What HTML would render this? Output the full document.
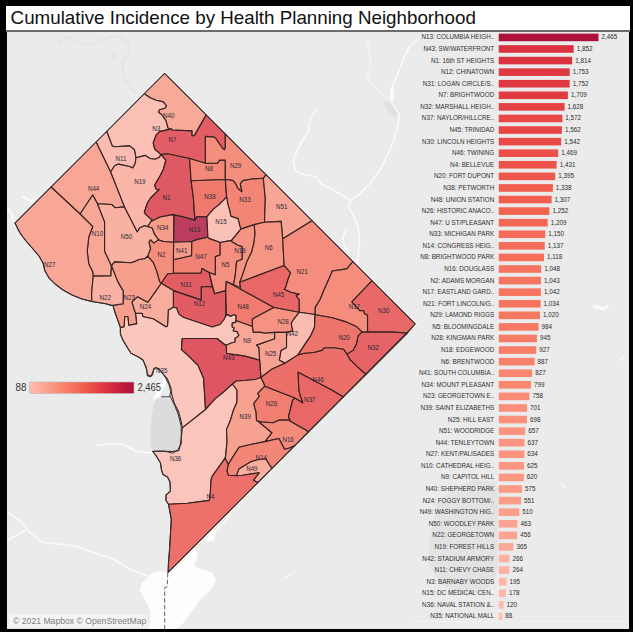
<!DOCTYPE html>
<html><head><meta charset="utf-8">
<style>
html,body{margin:0;padding:0;background:#000;}
body{width:633px;height:632px;position:relative;overflow:hidden;font-family:"Liberation Sans",sans-serif;}
#title{position:absolute;left:6px;top:6px;width:624px;height:24px;background:#fff;}
#title span{position:absolute;left:4.6px;top:0.8px;font-size:18.78px;color:#111;white-space:nowrap;letter-spacing:0px;}
#tline{position:absolute;left:6px;top:30px;width:624px;height:1.6px;background:#6b6b6b;}
#map{position:absolute;left:7px;top:32px;width:622px;height:597px;background:#ebebeb;overflow:hidden;}
svg{position:absolute;left:0;top:0;}
.bl{font-size:6.3px;fill:#303030;}
.bv{font-size:6.3px;fill:#2c2c2c;}
#copy{position:absolute;left:9px;top:613.5px;width:138px;height:13px;background:rgba(255,255,255,0.45);}
#copy span{position:absolute;left:3.5px;top:2.3px;font-size:9px;color:#7d7d7d;white-space:nowrap;transform:scaleX(0.96);transform-origin:0 0;}
</style></head><body>
<div id="wrap" style="position:absolute;left:0;top:0;width:633px;height:632px">
<div id="title"><span>Cumulative Incidence by Health Planning Neighborhood</span></div>
<div id="tline"></div>
<div id="map"></div>
<svg width="633" height="632" viewBox="0 0 633 632" style="clip-path:inset(32px 4px 3px 7px)">
<defs><linearGradient id="lg" x1="0" x2="1" y1="0" y2="0"><stop offset="0.000" stop-color="#ffbeb2"/><stop offset="0.053" stop-color="#feb4a6"/><stop offset="0.105" stop-color="#fdab9b"/><stop offset="0.158" stop-color="#fca290"/><stop offset="0.211" stop-color="#fb9984"/><stop offset="0.263" stop-color="#fa8f79"/><stop offset="0.316" stop-color="#f9856e"/><stop offset="0.368" stop-color="#f77b66"/><stop offset="0.421" stop-color="#f5715d"/><stop offset="0.474" stop-color="#f36754"/><stop offset="0.526" stop-color="#f05c4d"/><stop offset="0.579" stop-color="#ec5049"/><stop offset="0.632" stop-color="#e74545"/><stop offset="0.684" stop-color="#e13b42"/><stop offset="0.737" stop-color="#da323f"/><stop offset="0.789" stop-color="#d3293d"/><stop offset="0.842" stop-color="#ca223c"/><stop offset="0.895" stop-color="#c11a3b"/><stop offset="0.947" stop-color="#b8163a"/><stop offset="1.000" stop-color="#ae123a"/></linearGradient></defs>
<g fill="none" stroke="#fafafa" stroke-width="1.6" stroke-linejoin="round" stroke-linecap="round">
<polyline points="416.6,40 409,47.6 403.3,59 397.6,74.1 391.9,87.4 390,98.8 393.8,106.4 399.5,114 397.6,127.3 393.8,140.5 388.1,153.8 380.5,169 371,182.3 359.7,193.6 350.2,201.2 348.3,206.9 354,216.4 357.8,225.9 359.7,241.1 357.8,258.1 355.9,267.6"/>
<polyline points="316,110.2 310.3,117.8 308.5,131 302.8,140.5 297.1,150 293.3,161.4 295.2,170.9 304.7,174.7 316,176.6 321.7,184.2 333.1,189.9 342.6,195.5 350.2,201.2"/>
<polyline stroke="#f4f4f4" stroke-width="1.1" points="367.3,40 371,62.8 367.3,77.9 376.7,89.3 386.2,96.9"/>
<polyline points="347,230 343,236 344,246 349,252"/>
<polyline points="96.7,445.5 113.7,443.6 123.2,444.7 136.5,451.2 153.6,453.1"/>
<polyline points="7.6,511.8 22.7,523.2 28.4,530.8 37.9,538.4 41.7,542.2 75.8,546 91,551.7 113.7,559.2 128.9,568.7 142.2,574.4 149.8,576.3"/>
<polyline points="7.6,540.3 24.6,530.8"/>
<polyline points="545,76 560,73" />
<polyline points="23,197 31,201 36,199" stroke-width="2.2"/>
<polyline points="8,209 12,215 14,221" stroke-width="2.2"/>
<polygon fill="#fafafa" stroke="none" points="591,305.5 598,305 603,307.5 608,304.5 609,307 602,310.5 595,308.5"/>
</g>
<g fill="#fdfdfd" stroke="none">
<polygon points="167.8,572 179.3,560.5 189.7,552.2 196,550.1 198.1,554.3 196,560.5 193.9,566.8 202.2,568.9 212.7,573.1 215.8,580.4 212.7,587.7 206.4,594 200.2,600.2 193.9,608.6 187.6,616.9 181.4,625.3 175.1,629 148,629 150.1,621.1 150.1,612.7 148,604.4 143.8,598.1 139.6,589.8 141.7,583.5 145.9,579.3 152.1,573.1 158.4,571"/>
<polygon points="204,529 212,527 216,532 214,540 208,542 203,538"/>
<polygon points="164.5,376.5 168.5,379 157.5,400.5 153.5,398.5"/>
</g>
<polyline fill="none" stroke="#fafafa" stroke-width="1.3" points="206.4,539.7 212.7,533.4 219,527.1 227.3,518.8 231.5,512.5"/>
<polyline fill="none" stroke="#fafafa" stroke-width="1.3" points="284,578 294,573"/>
<polygon fill="#e0e0e0" points="383,101 390,102 397.6,113 396,118 389,114"/>
<ellipse cx="392" cy="94" rx="2.2" ry="7" fill="#fafafa"/>
<polyline fill="none" stroke="#e5e5e5" stroke-width="2.2" stroke-linejoin="round" points="58.3,44.3 66.5,36.1 74.8,40.2 85,45.3 95.3,42.3 105.6,38.2 113.8,36.1 122,38.2 128.1,44.3 130.2,52.5 124,58.7 122,69 125.1,79.2 130.2,87.4 137,93.6"/>
<circle cx="113.8" cy="55.6" r="3" fill="#e5e5e5"/>
<polygon fill="#e3e3e3" points="428,552 436,504 452,488 474,480 495,482 501,493 498,531 501,558 495,579 482,592 460,595 441.5,584 431,568"/>
<polyline fill="none" stroke="#fafafa" stroke-width="1.5" points="561,483 565,487.5"/>
<polyline fill="none" stroke="#fafafa" stroke-width="1.5" points="620,361 624,356"/>
<polyline fill="none" stroke="#fafafa" stroke-width="2" points="485,592 494,591"/>
<polygon fill="#dcdcdc" points="157,398 163,397 168,399 172,401 175,405 178.8,412.3 181.4,422.7 182.3,427.9 181.4,436.7 180.5,443.6 178.8,450.6 172,451.5 160,451 152.6,451.5 150.9,446 150.5,430 151.5,415 154,404"/>
<line x1="161.4" y1="396.8" x2="170.1" y2="396.8" stroke="#333" stroke-width="0.9"/>
<polyline fill="none" points="167.8,573 167.2,586.6 164.7,587.7 164.7,629" stroke="#555" stroke-width="0.9" stroke-dasharray="4.5,2.2"/>
<polyline fill="none" stroke="#f9f9f9" stroke-width="3.4" stroke-linejoin="miter" points="15.0,223.0 164.6,73.4 415.2,324.0 168.1,572.4"/>
<g fill-opacity="0.80" stroke="#352424" stroke-width="1.12" stroke-linejoin="round">
<polygon fill="#fb9a85" points="164.6,73.4 206.2,114.9 194.3,135.6 191.9,135.6 191.9,130.9 172.2,130.0 170.6,128.5 168.8,129.6 168.0,128.0 165.7,120.1 161.7,114.6 158.5,112.2 159.3,109.8 164.9,108.3 166.5,105.9 163.3,101.9 156.2,100.3 150.6,98.0 144.3,93.7"/>
<polygon fill="#feb5a8" points="144.3,93.7 150.6,98.0 156.2,100.3 163.3,101.9 166.5,105.9 164.9,108.3 159.3,109.8 158.5,112.2 161.7,114.6 165.7,120.1 168.0,128.0 168.8,129.6 165.8,130.1 159.5,131.6 156.3,134.8 153.2,142.7 154.7,149.0 161.1,154.6 158.7,157.8 154.7,159.3 150.0,158.5 145.4,155.4 136.0,157.8 134.4,149.8 129.6,145.9 114.6,146.7 112.2,145.9 106.7,131.3"/>
<polygon fill="#e13b42" points="168.8,129.6 170.6,128.5 172.2,130.0 191.9,130.9 191.9,135.6 194.3,135.6 206.2,114.9 225.3,134.0 225.3,147.5 224.4,149.8 222.0,147.5 214.9,137.2 205.4,136.4 205.4,163.3 189.6,158.5 167.4,153.8 161.1,154.6 154.7,149.0 153.2,142.7 156.3,134.8 159.5,131.6 165.8,130.1"/>
<polygon fill="#feb0a2" points="106.7,131.3 112.2,145.9 114.6,146.7 129.6,145.9 134.4,149.8 136.0,157.8 135.2,163.3 132.8,168.0 129.6,166.5 118.5,164.1 114.6,165.7 110.6,172.0 96.1,141.9"/>
<polygon fill="#fda999" points="136.0,157.8 145.4,155.4 150.0,158.5 154.7,159.3 158.7,157.8 161.1,154.6 165.8,160.1 163.3,169.5 160.1,175.8 154.6,185.3 156.2,189.3 159.3,189.6 155.4,193.2 150.6,198.0 147.5,202.7 144.3,212.2 145.9,214.6 152.2,220.1 149.8,223.3 147.5,226.5 144.3,225.7 139.6,228.0 137.2,232.0 124.4,206.9 110.6,172.0 114.6,165.7 118.5,164.1 129.6,166.5 132.8,168.0 135.2,163.3"/>
<polygon fill="#db3440" points="161.1,154.6 167.4,153.8 189.6,158.5 191.1,180.7 193.4,198.0 194.9,220.1 183.9,217.0 172.8,214.6 160.1,217.0 150.6,221.7 152.2,220.1 145.9,214.6 144.3,212.2 147.5,202.7 150.6,198.0 155.4,193.2 159.3,189.6 156.2,189.3 154.6,185.3 160.1,175.8 163.3,169.5 165.8,160.1"/>
<polygon fill="#f56f5b" points="189.6,158.5 205.4,163.3 217.4,163.2 219.8,160.1 225.3,160.1 225.3,179.5 191.1,180.7"/>
<polygon fill="#f67762" points="225.3,134.0 266.0,174.7 263.3,178.3 252.2,179.0 242.7,180.6 240.3,183.8 241.9,191.7 238.0,188.5 235.6,183.8 233.2,180.6 228.5,179.8 225.3,179.5 225.3,160.1 219.8,160.1 217.4,163.2 205.4,163.3 205.4,136.4 214.9,137.2 222.0,147.5 224.4,149.8 225.3,147.5"/>
<polygon fill="#f05c4d" points="191.1,180.7 225.3,179.5 226.6,196.5 224.4,199.3 218.2,205.4 213.4,209.1 206.9,216.7 200.0,216.7 196.6,216.7 194.9,220.1 193.4,198.0"/>
<polygon fill="#f46c59" points="226.6,196.5 225.3,179.5 228.5,179.8 233.2,180.6 235.6,183.8 238.0,188.5 241.9,191.7 240.3,183.8 242.7,180.6 252.2,179.0 263.3,178.3 265.3,198.5 264.5,222.2 254.2,224.6 240.8,229.1 239.6,224.9 238.0,218.6 230.9,216.2 229.3,209.1 227.7,203.6"/>
<polygon fill="#fa947e" points="266.0,174.7 312.0,220.7 282.7,238.8 281.1,221.4 264.5,222.2 265.3,198.5 263.3,178.3"/>
<polygon fill="#fb9580" points="96.1,141.9 110.6,172.0 124.4,206.9 114.9,207.7 111.7,204.5 97.5,203.7 92.7,195.0 80.1,214.0 51.0,187.0"/>
<polygon fill="#fb9681" points="92.7,195.0 97.5,203.7 104.6,221.9 104.6,251.2 111.4,265.8 110.9,276.0 93.2,276.1 92.7,271.8 88.8,263.9 87.2,251.2 88.8,237.0 92.7,226.7 80.1,214.0"/>
<polygon fill="#fb9580" points="51.0,187.0 80.1,214.0 92.7,226.7 88.8,237.0 87.2,251.2 88.8,263.9 92.7,271.8 93.2,276.1 92.4,285.0 91.6,292.7 91.8,301.5 82.0,299.0 72.0,295.0 63.0,290.0 55.0,284.0 49.0,278.0 45.0,271.0 43.0,263.0 39.0,256.0 33.0,249.0 26.0,241.0 20.0,233.0 15.0,223.0"/>
<polygon fill="#fca290" points="97.5,203.7 111.7,204.5 114.9,207.7 124.4,206.9 137.2,232.0 139.6,228.0 144.3,225.7 147.5,226.5 152.2,228.0 154.6,234.4 157.0,237.5 158.5,239.9 153.8,243.1 150.6,239.9 149.1,242.3 150.6,248.6 148.3,254.9 147.8,256.3 144.6,258.7 139.1,259.5 135.9,261.1 131.1,262.7 114.5,261.9 111.4,265.8 104.6,251.2 104.6,221.9"/>
<polygon fill="#f98871" points="150.6,221.7 160.1,217.0 172.8,214.6 174.0,216.7 173.6,242.3 163.3,241.5 158.5,239.9 157.0,237.5 154.6,234.4 152.2,228.0 147.5,226.5 149.8,223.3"/>
<polygon fill="#ae123a" points="174.0,216.7 172.8,214.6 183.9,217.0 194.9,220.1 196.6,216.7 206.9,216.7 207.9,237.3 197.6,239.4 191.8,241.5 173.6,242.3"/>
<polygon fill="#feb7a9" points="206.9,216.7 213.4,209.1 218.2,205.4 224.4,199.3 226.6,196.5 227.7,203.6 229.3,209.1 230.9,216.2 238.0,218.6 239.6,224.9 240.8,229.1 231.6,240.4 220.2,242.5 208.9,238.4 207.9,237.3"/>
<polygon fill="#f9866f" points="173.6,242.3 191.8,241.5 191.6,255.8 173.4,259.8"/>
<polygon fill="#f36754" points="191.8,241.5 197.6,239.4 207.9,237.3 208.9,238.4 220.2,242.5 220.1,255.0 215.4,256.6 215.4,274.8 209.1,272.4 201.9,268.5 201.1,273.2 173.4,273.3 173.4,259.8 191.6,255.8"/>
<polygon fill="#f67560" points="158.5,239.9 163.3,241.5 173.6,242.3 173.4,259.8 173.4,273.3 167.5,274.0 161.2,283.2 159.6,281.6 156.5,270.6 153.3,262.7 147.8,256.3 148.3,254.9 150.6,248.6 149.1,242.3 150.6,239.9 153.8,243.1"/>
<polygon fill="#f77965" points="220.2,242.5 231.6,240.4 231.1,241.1 237.4,245.0 242.2,246.6 242.2,259.3 236.6,261.6 235.0,277.5 233.4,284.6 226.3,281.4 225.7,290.6 214.6,293.8 209.1,272.4 215.4,274.8 215.4,256.6 220.1,255.0"/>
<polygon fill="#f87e68" points="240.8,229.1 254.2,224.6 255.0,233.3 254.0,242.7 251.6,252.2 246.9,261.6 242.2,275.9 239.8,282.2 240.5,287.7 233.4,284.6 235.0,277.5 236.6,261.6 242.2,259.3 242.2,246.6 237.4,245.0 231.1,241.1 231.6,240.4"/>
<polygon fill="#f8816b" points="254.2,224.6 264.5,222.2 281.1,221.4 282.7,238.8 284.1,265.6 239.8,282.2 242.2,275.9 246.9,261.6 251.6,252.2 254.0,242.7 255.0,233.3"/>
<polygon fill="#f67561" points="312.0,220.7 352.9,261.6 346.7,268.9 332.3,271.0 330.2,276.1 324.0,290.0 320.1,299.5 315.3,307.4 315.0,314.5 299.1,312.3 299.1,299.6 295.9,295.7 299.1,294.1 291.2,292.5 284.1,289.3 285.7,287.0 288.0,279.0 290.4,272.7 284.1,265.6 282.7,238.8"/>
<polygon fill="#e84746" points="239.8,282.2 284.1,265.6 290.4,272.7 288.0,279.0 285.7,287.0 284.1,289.3 291.2,292.5 299.1,294.1 295.9,295.7 299.1,299.6 299.1,312.3 273.8,307.5 240.5,289.2"/>
<polygon fill="#df3841" points="161.2,283.2 167.5,274.0 173.4,273.3 201.1,273.2 201.9,268.5 209.1,272.4 212.2,286.7 201.3,286.7 201.3,300.1 173.4,290.6"/>
<polygon fill="#df3841" points="173.4,290.6 201.3,300.1 201.3,286.7 212.2,286.7 214.6,293.8 225.7,290.6 225.7,316.0 224.1,319.5 220.1,324.5 212.2,327.0 183.7,317.5 179.0,314.4 176.6,308.0 173.4,307.2"/>
<polygon fill="#ffbeb2" points="120.4,327.6 124.0,326.7 124.8,316.5 128.0,316.5 128.8,325.2 136.7,323.6 135.5,313.3 142.2,313.3 143.0,316.5 153.3,318.8 166.0,326.7 167.5,326.0 168.3,310.1 172.3,307.8 173.4,307.2 176.6,308.0 179.0,314.4 183.7,317.5 212.2,327.0 220.1,324.5 224.1,319.5 225.7,316.0 226.5,315.5 228.4,314.5 230.3,316.4 234.1,314.5 236.0,315.5 236.0,322.1 232.2,323.1 232.2,326.9 234.1,327.8 233.2,330.7 237.0,331.6 238.9,335.4 237.0,337.3 235.1,338.2 235.1,342.0 231.3,343.0 226.5,344.9 224.9,344.8 217.0,338.5 182.2,338.5 181.4,349.6 188.5,355.9 198.0,365.4 203.5,378.0 204.3,389.1 205.5,409.5 182.3,427.9 181.4,422.7 178.8,412.3 174.4,403.6 171.8,394.8 170.9,387.9 167.5,379.2 163.1,373.9 158.7,368.7 155.3,367.8 153.5,370.5 150.9,376.6 147.4,375.7 146.6,369.6 143.1,360.0 138.5,357.0 130.9,353.2 123.3,340.9 120.4,334.2"/>
<polygon fill="#f15f4f" points="226.3,281.4 240.5,289.2 273.8,307.5 252.4,319.0 252.4,326.5 236.0,320.5 236.0,315.5 234.1,314.5 230.3,316.4 228.4,314.5 226.5,315.5 225.7,290.6"/>
<polygon fill="#f77c67" points="252.4,319.0 273.8,307.5 299.1,312.3 292.8,320.6 291.2,323.7 292.8,330.9 286.5,332.4 274.6,332.4 264.3,333.2 261.1,332.4 253.2,332.4 252.4,326.5"/>
<polygon fill="#feb0a1" points="299.1,312.3 315.0,314.5 314.5,327.2 310.6,335.9 304.2,345.4 297.9,354.9 284.9,363.3 279.3,360.1 280.9,350.6 286.5,347.5 286.5,332.4 292.8,330.9 291.2,323.7 292.8,320.6"/>
<polygon fill="#fa907a" points="274.6,332.4 286.5,332.4 286.5,347.5 280.9,350.6 279.3,360.1 284.9,363.3 271.1,369.6 260.9,377.5 259.6,360.1 258.8,347.5 256.4,345.1 274.6,338.8"/>
<polygon fill="#fb9681" points="236.0,320.5 252.4,326.5 253.2,332.4 261.1,332.4 264.3,333.2 274.6,332.4 274.6,338.8 256.4,345.1 258.8,347.5 259.6,360.1 243.9,355.9 226.5,353.5 226.5,344.9 231.3,343.0 235.1,342.0 235.1,338.2 237.0,337.3 238.9,335.4 237.0,331.6 233.2,330.7 234.1,327.8 232.2,326.9 232.2,323.1 236.0,322.1"/>
<polygon fill="#fb9c88" points="161.2,283.2 173.4,290.6 173.4,307.2 172.3,307.8 168.3,310.1 167.5,326.0 166.0,326.7 153.3,318.8 143.0,316.5 142.2,313.3 135.5,313.3 134.3,310.1 131.9,302.2 137.5,296.7 147.8,302.2 155.7,291.1"/>
<polygon fill="#fa8b75" points="111.4,265.8 114.5,261.9 131.1,262.7 135.9,261.1 139.1,259.5 144.6,258.7 147.8,256.3 153.3,262.7 156.5,270.6 159.6,281.6 161.2,283.2 155.7,291.1 147.8,302.2 137.5,296.7 131.9,302.2 134.3,310.1 135.5,313.3 136.7,323.6 128.8,325.2 128.0,316.5 124.8,316.5 124.0,326.7 120.4,327.6 119.3,324.4 115.3,313.3 112.9,305.4 123.2,303.8 123.2,291.1 117.7,281.6"/>
<polygon fill="#fca391" points="93.2,276.1 110.9,276.0 111.4,265.8 117.7,281.6 123.2,291.1 123.2,303.8 112.9,305.4 111.4,305.4 105.8,303.8 96.3,302.2 91.8,301.5 91.6,292.7 92.4,285.0"/>
<polygon fill="#d9313f" points="182.2,338.5 217.0,338.5 224.9,344.8 226.3,345.9 226.5,353.5 243.9,355.9 259.6,360.1 260.9,377.5 255.0,379.5 245.0,380.5 236.3,381.0 232.4,384.0 223.3,392.3 215.4,398.6 205.5,409.5 204.3,389.1 203.5,378.0 198.0,365.4 188.5,355.9 181.4,349.6"/>
<polygon fill="#ffbbaf" points="182.3,427.9 205.5,409.5 215.4,398.6 223.3,392.3 232.4,384.0 237.0,390.0 237.0,402.0 233.5,410.0 230.5,420.0 226.5,429.6 227.0,441.6 225.7,455.6 225.1,458.1 212.0,476.6 211.0,480.0 210.2,494.7 209.3,500.4 187.5,503.2 168.5,504.2 166.0,500.5 166.0,495.0 170.4,491.0 170.0,482.0 167.5,477.0 163.0,474.5 161.5,470.0 160.4,462.7 155.7,455.1 152.6,451.5 160.0,451.0 172.0,451.5 178.8,450.6 180.5,443.6 181.4,436.7"/>
<polygon fill="#fa907a" points="232.4,384.0 236.3,381.0 245.0,380.5 255.0,379.5 260.9,377.5 264.0,383.8 264.8,386.2 257.7,393.3 259.3,396.5 253.7,403.6 256.1,412.3 256.5,420.5 259.0,422.0 271.9,432.8 264.9,441.6 251.6,444.2 239.0,447.3 228.2,464.4 225.1,458.1 225.7,455.6 227.0,441.6 226.5,429.6 230.5,420.0 233.5,410.0 237.0,402.0 237.0,390.0"/>
<polygon fill="#f26452" points="264.8,386.2 294.9,398.0 292.5,400.4 290.9,407.5 288.5,416.2 290.1,421.0 289.0,420.1 279.5,420.1 273.2,422.7 261.8,422.0 256.5,420.5 256.1,412.3 253.7,403.6 259.3,396.5 257.7,393.3"/>
<polygon fill="#f67460" points="259.0,422.0 261.8,422.0 273.2,422.7 279.5,420.1 289.0,420.1 290.1,421.0 299.6,426.5 306.0,430.0 308.5,432.0 294.7,445.8 289.6,448.0 284.6,449.2 278.9,438.5 264.9,441.6 271.9,432.8"/>
<polygon fill="#f46d5a" points="228.2,464.4 239.0,447.3 251.6,444.2 264.9,441.6 278.9,438.5 284.6,449.2 289.6,448.0 294.7,445.8 271.9,468.6 265.6,458.7 256.7,460.0 250.4,461.9 239.0,468.9 236.5,475.8 228.2,475.2 227.0,470.8"/>
<polygon fill="#fc9f8c" points="236.5,475.8 239.0,468.9 250.4,461.9 256.7,460.0 265.6,458.7 271.9,468.6 258.0,482.5 253.5,480.3 259.2,472.7 242.8,475.2"/>
<polygon fill="#ed534a" points="168.5,504.2 187.5,503.2 209.3,500.4 210.2,494.7 211.0,480.0 212.0,476.6 225.1,458.1 228.2,464.4 227.0,470.8 228.2,475.2 236.5,475.8 242.8,475.2 259.2,472.7 253.5,480.3 258.0,482.5 168.1,572.4 168.5,563.0 169.4,551.6 170.4,534.6 171.3,519.4"/>
<polygon fill="#e84746" points="298.0,371.9 332.7,390.5 343.6,396.9 308.5,432.0 306.0,430.0 299.6,426.5 290.1,421.0 288.5,416.2 290.9,407.5 292.5,400.4 294.9,398.0 302.8,402.8 300.4,396.5 298.8,390.1"/>
<polygon fill="#ec5049" points="260.9,377.5 271.1,369.6 284.9,363.3 297.9,354.9 304.2,353.3 313.7,352.5 322.4,350.1 324.0,347.8 334.3,347.8 343.8,349.3 347.0,354.1 350.1,359.6 356.5,365.9 366.0,374.5 343.6,396.9 332.7,390.5 298.0,371.9 298.8,390.1 300.4,396.5 302.8,402.8 294.9,398.0 264.8,386.2 264.0,383.8"/>
<polygon fill="#e54244" points="362.0,331.9 390.0,331.9 407.5,333.0 366.0,374.5 356.5,365.9 350.1,359.6 347.0,354.1 353.3,350.1 356.5,343.8 358.0,335.9"/>
<polygon fill="#e94947" points="371.9,280.6 415.2,324.0 407.5,333.0 390.0,331.9 367.5,331.9 367.5,315.3 364.4,313.7 363.6,310.6 359.6,310.6 351.7,301.9"/>
<polygon fill="#ee574b" points="315.0,314.5 332.7,317.7 345.4,321.6 356.5,326.4 362.0,331.9 358.0,335.9 356.5,343.8 353.3,350.1 347.0,354.1 343.8,349.3 334.3,347.8 324.0,347.8 322.4,350.1 313.7,352.5 304.2,353.3 297.9,354.9 304.2,345.4 310.6,335.9 314.5,327.2"/>
<polygon fill="#f67560" points="352.9,261.6 371.9,280.6 351.7,301.9 359.6,310.6 363.6,310.6 364.4,313.7 367.5,315.3 367.5,331.9 362.0,331.9 356.5,326.4 345.4,321.6 332.7,317.7 315.0,314.5 315.3,307.4 320.1,299.5 324.0,290.0 330.2,276.1 332.3,271.0 346.7,268.9"/>
</g>
<polygon fill="none" stroke="#3a3030" stroke-width="1.0" stroke-linejoin="round" points="164.6,73.4 415.2,324.0 168.1,572.4 168.5,563.0 169.4,551.6 170.4,534.6 171.3,519.4 168.5,504.2 166.0,500.5 166.0,495.0 170.4,491.0 170.0,482.0 167.5,477.0 163.0,474.5 161.5,470.0 160.4,462.7 155.7,455.1 152.8,451.3 165.2,451.3 172.8,453.2 177.5,450.3 181.3,443.7 181.2,426.3 178.4,414.9 174.6,405.4 170.8,397.8 169.8,395.9 170.8,391.2 168.9,384.6 165.1,377.0 161.3,371.3 156.5,367.5 153.7,368.4 152.7,375.1 148.9,376.0 147.0,372.2 146.1,366.5 143.2,360.8 138.5,357.0 130.9,353.2 123.3,340.9 120.4,334.2 120.4,327.6 119.3,324.4 115.3,313.3 112.9,305.4 111.4,305.4 105.8,303.8 96.3,302.2 91.8,301.5 82.0,299.0 72.0,295.0 63.0,290.0 55.0,284.0 49.0,278.0 45.0,271.0 43.0,263.0 39.0,256.0 33.0,249.0 26.0,241.0 20.0,233.0 15.0,223.0"/>
<g font-family="Liberation Sans, sans-serif" font-size="6.7" fill="#2a2a3a" text-anchor="middle">
<text x="168.8" y="117.7" textLength="11.37" lengthAdjust="spacingAndGlyphs">N40</text>
<text x="156.2" y="131.2" textLength="7.93" lengthAdjust="spacingAndGlyphs">N3</text>
<text x="172.4" y="142.4" textLength="7.93" lengthAdjust="spacingAndGlyphs">N7</text>
<text x="120.9" y="161.2" textLength="10.91" lengthAdjust="spacingAndGlyphs">N11</text>
<text x="139.9" y="183.9" textLength="11.37" lengthAdjust="spacingAndGlyphs">N19</text>
<text x="93.6" y="190.8" textLength="11.37" lengthAdjust="spacingAndGlyphs">N44</text>
<text x="166.5" y="199.9" textLength="7.93" lengthAdjust="spacingAndGlyphs">N1</text>
<text x="209.0" y="170.9" textLength="7.93" lengthAdjust="spacingAndGlyphs">N8</text>
<text x="235.6" y="167.8" textLength="11.37" lengthAdjust="spacingAndGlyphs">N29</text>
<text x="210.0" y="198.8" textLength="11.37" lengthAdjust="spacingAndGlyphs">N38</text>
<text x="245.0" y="202.2" textLength="11.37" lengthAdjust="spacingAndGlyphs">N33</text>
<text x="281.8" y="208.7" textLength="11.37" lengthAdjust="spacingAndGlyphs">N51</text>
<text x="221.0" y="223.8" textLength="11.37" lengthAdjust="spacingAndGlyphs">N15</text>
<text x="162.8" y="230.4" textLength="11.37" lengthAdjust="spacingAndGlyphs">N34</text>
<text x="194.5" y="231.8" textLength="11.37" lengthAdjust="spacingAndGlyphs">N13</text>
<text x="126.5" y="239.4" textLength="11.37" lengthAdjust="spacingAndGlyphs">N50</text>
<text x="97.5" y="236.0" textLength="11.37" lengthAdjust="spacingAndGlyphs">N10</text>
<text x="49.8" y="267.4" textLength="11.37" lengthAdjust="spacingAndGlyphs">N27</text>
<text x="181.8" y="253.4" textLength="11.37" lengthAdjust="spacingAndGlyphs">N41</text>
<text x="161.4" y="257.0" textLength="7.93" lengthAdjust="spacingAndGlyphs">N2</text>
<text x="201.0" y="258.9" textLength="11.37" lengthAdjust="spacingAndGlyphs">N47</text>
<text x="225.4" y="266.8" textLength="7.93" lengthAdjust="spacingAndGlyphs">N5</text>
<text x="240.0" y="252.5" textLength="11.37" lengthAdjust="spacingAndGlyphs">N18</text>
<text x="268.8" y="249.7" textLength="7.93" lengthAdjust="spacingAndGlyphs">N6</text>
<text x="302.3" y="273.8" textLength="11.37" lengthAdjust="spacingAndGlyphs">N21</text>
<text x="278.5" y="296.8" textLength="11.37" lengthAdjust="spacingAndGlyphs">N45</text>
<text x="243.1" y="308.9" textLength="11.37" lengthAdjust="spacingAndGlyphs">N48</text>
<text x="283.1" y="324.1" textLength="11.37" lengthAdjust="spacingAndGlyphs">N28</text>
<text x="292.5" y="335.5" textLength="11.37" lengthAdjust="spacingAndGlyphs">N42</text>
<text x="247.1" y="342.6" textLength="7.93" lengthAdjust="spacingAndGlyphs">N9</text>
<text x="270.6" y="355.5" textLength="11.37" lengthAdjust="spacingAndGlyphs">N25</text>
<text x="228.8" y="359.7" textLength="11.37" lengthAdjust="spacingAndGlyphs">N43</text>
<text x="186.3" y="286.7" textLength="11.37" lengthAdjust="spacingAndGlyphs">N31</text>
<text x="199.5" y="306.4" textLength="11.37" lengthAdjust="spacingAndGlyphs">N12</text>
<text x="145.5" y="309.1" textLength="11.37" lengthAdjust="spacingAndGlyphs">N24</text>
<text x="129.3" y="299.8" textLength="11.37" lengthAdjust="spacingAndGlyphs">N23</text>
<text x="105.2" y="299.8" textLength="11.37" lengthAdjust="spacingAndGlyphs">N22</text>
<text x="161.8" y="373.1" textLength="11.37" lengthAdjust="spacingAndGlyphs">N35</text>
<text x="175.6" y="461.2" textLength="11.37" lengthAdjust="spacingAndGlyphs">N36</text>
<text x="245.3" y="418.6" textLength="11.37" lengthAdjust="spacingAndGlyphs">N39</text>
<text x="271.5" y="406.1" textLength="11.37" lengthAdjust="spacingAndGlyphs">N26</text>
<text x="309.6" y="401.5" textLength="11.37" lengthAdjust="spacingAndGlyphs">N37</text>
<text x="318.2" y="381.8" textLength="11.37" lengthAdjust="spacingAndGlyphs">N46</text>
<text x="344.1" y="339.9" textLength="11.37" lengthAdjust="spacingAndGlyphs">N20</text>
<text x="373.3" y="350.1" textLength="11.37" lengthAdjust="spacingAndGlyphs">N32</text>
<text x="383.8" y="313.2" textLength="11.37" lengthAdjust="spacingAndGlyphs">N30</text>
<text x="354.4" y="309.2" textLength="11.37" lengthAdjust="spacingAndGlyphs">N17</text>
<text x="288.1" y="441.5" textLength="11.37" lengthAdjust="spacingAndGlyphs">N16</text>
<text x="261.4" y="460.0" textLength="11.37" lengthAdjust="spacingAndGlyphs">N14</text>
<text x="251.9" y="470.7" textLength="11.37" lengthAdjust="spacingAndGlyphs">N49</text>
<text x="210.4" y="498.5" textLength="7.93" lengthAdjust="spacingAndGlyphs">N4</text>
</g>
<rect x="29.5" y="382" width="104.5" height="11.5" fill="url(#lg)" stroke="#b9b9b9" stroke-width="0.6"/>
<text x="15.6" y="390.8" font-size="10.9" fill="#333" textLength="10.9" lengthAdjust="spacingAndGlyphs">88</text>
<text x="137.5" y="390.8" font-size="10.9" fill="#333" textLength="23.6" lengthAdjust="spacingAndGlyphs">2,465</text>
<line x1="498.5" y1="33" x2="498.5" y2="621.5" stroke="#f4f4f4" stroke-width="0.8"/>
<line x1="410" y1="621.8" x2="625.5" y2="621.8" stroke="#f4f4f4" stroke-width="0.8"/>
<line x1="625.5" y1="33" x2="625.5" y2="621.8" stroke="#f4f4f4" stroke-width="0.8"/>
<rect x="498.7" y="33.60" width="99.80" height="7.6" fill="#ae123a"/>
<text x="494.2" y="39.40" text-anchor="end" class="bl">N13: COLUMBIA HEIGH..</text>
<text x="601.50" y="39.40" class="bv">2,465</text>
<rect x="498.7" y="45.18" width="74.98" height="7.6" fill="#d9313f"/>
<text x="494.2" y="50.98" text-anchor="end" class="bl">N43: SW/WATERFRONT</text>
<text x="576.68" y="50.98" class="bv">1,852</text>
<rect x="498.7" y="56.76" width="73.44" height="7.6" fill="#db3440"/>
<text x="494.2" y="62.56" text-anchor="end" class="bl">N1: 16th ST HEIGHTS</text>
<text x="575.14" y="62.56" class="bv">1,814</text>
<rect x="498.7" y="68.34" width="70.97" height="7.6" fill="#df3841"/>
<text x="494.2" y="74.14" text-anchor="end" class="bl">N12: CHINATOWN</text>
<text x="572.67" y="74.14" class="bv">1,753</text>
<rect x="498.7" y="79.92" width="70.93" height="7.6" fill="#df3841"/>
<text x="494.2" y="85.72" text-anchor="end" class="bl">N31: LOGAN CIRCLE/S..</text>
<text x="572.63" y="85.72" class="bv">1,752</text>
<rect x="498.7" y="91.50" width="69.19" height="7.6" fill="#e13b42"/>
<text x="494.2" y="97.30" text-anchor="end" class="bl">N7: BRIGHTWOOD</text>
<text x="570.89" y="97.30" class="bv">1,709</text>
<rect x="498.7" y="103.08" width="65.91" height="7.6" fill="#e54244"/>
<text x="494.2" y="108.88" text-anchor="end" class="bl">N32: MARSHALL HEIGH..</text>
<text x="567.61" y="108.88" class="bv">1,628</text>
<rect x="498.7" y="114.66" width="63.65" height="7.6" fill="#e84746"/>
<text x="494.2" y="120.46" text-anchor="end" class="bl">N37: NAYLOR/HILLCRE..</text>
<text x="565.35" y="120.46" class="bv">1,572</text>
<rect x="498.7" y="126.24" width="63.24" height="7.6" fill="#e84746"/>
<text x="494.2" y="132.04" text-anchor="end" class="bl">N45: TRINIDAD</text>
<text x="564.94" y="132.04" class="bv">1,562</text>
<rect x="498.7" y="137.82" width="62.43" height="7.6" fill="#e94947"/>
<text x="494.2" y="143.62" text-anchor="end" class="bl">N30: LINCOLN HEIGHTS</text>
<text x="564.13" y="143.62" class="bv">1,542</text>
<rect x="498.7" y="149.40" width="59.48" height="7.6" fill="#ec5049"/>
<text x="494.2" y="155.20" text-anchor="end" class="bl">N46: TWINING</text>
<text x="561.18" y="155.20" class="bv">1,469</text>
<rect x="498.7" y="160.98" width="57.94" height="7.6" fill="#ed534a"/>
<text x="494.2" y="166.78" text-anchor="end" class="bl">N4: BELLEVUE</text>
<text x="559.64" y="166.78" class="bv">1,431</text>
<rect x="498.7" y="172.56" width="56.48" height="7.6" fill="#ee574b"/>
<text x="494.2" y="178.36" text-anchor="end" class="bl">N20: FORT DUPONT</text>
<text x="558.18" y="178.36" class="bv">1,395</text>
<rect x="498.7" y="184.14" width="54.17" height="7.6" fill="#f05c4d"/>
<text x="494.2" y="189.94" text-anchor="end" class="bl">N38: PETWORTH</text>
<text x="555.87" y="189.94" class="bv">1,338</text>
<rect x="498.7" y="195.72" width="52.92" height="7.6" fill="#f15f4f"/>
<text x="494.2" y="201.52" text-anchor="end" class="bl">N48: UNION STATION</text>
<text x="554.62" y="201.52" class="bv">1,307</text>
<rect x="498.7" y="207.30" width="50.69" height="7.6" fill="#f26452"/>
<text x="494.2" y="213.10" text-anchor="end" class="bl">N26: HISTORIC ANACO..</text>
<text x="552.39" y="213.10" class="bv">1,252</text>
<rect x="498.7" y="218.88" width="48.95" height="7.6" fill="#f36754"/>
<text x="494.2" y="224.68" text-anchor="end" class="bl">N47: U ST/PLEASANT</text>
<text x="550.65" y="224.68" class="bv">1,209</text>
<rect x="498.7" y="230.46" width="46.56" height="7.6" fill="#f46c59"/>
<text x="494.2" y="236.26" text-anchor="end" class="bl">N33: MICHIGAN PARK</text>
<text x="548.26" y="236.26" class="bv">1,150</text>
<rect x="498.7" y="242.04" width="46.03" height="7.6" fill="#f46d5a"/>
<text x="494.2" y="247.84" text-anchor="end" class="bl">N14: CONGRESS HEIG..</text>
<text x="547.73" y="247.84" class="bv">1,137</text>
<rect x="498.7" y="253.62" width="45.26" height="7.6" fill="#f56f5b"/>
<text x="494.2" y="259.42" text-anchor="end" class="bl">N8: BRIGHTWOOD PARK</text>
<text x="546.96" y="259.42" class="bv">1,118</text>
<rect x="498.7" y="265.20" width="42.43" height="7.6" fill="#f67460"/>
<text x="494.2" y="271.00" text-anchor="end" class="bl">N16: DOUGLASS</text>
<text x="544.13" y="271.00" class="bv">1,048</text>
<rect x="498.7" y="276.78" width="42.23" height="7.6" fill="#f67560"/>
<text x="494.2" y="282.58" text-anchor="end" class="bl">N2: ADAMS MORGAN</text>
<text x="543.93" y="282.58" class="bv">1,043</text>
<rect x="498.7" y="288.36" width="42.19" height="7.6" fill="#f67560"/>
<text x="494.2" y="294.16" text-anchor="end" class="bl">N17: EASTLAND GARD..</text>
<text x="543.89" y="294.16" class="bv">1,042</text>
<rect x="498.7" y="299.94" width="41.86" height="7.6" fill="#f67561"/>
<text x="494.2" y="305.74" text-anchor="end" class="bl">N21: FORT LINCOLN/G..</text>
<text x="543.56" y="305.74" class="bv">1,034</text>
<rect x="498.7" y="311.52" width="41.30" height="7.6" fill="#f67762"/>
<text x="494.2" y="317.32" text-anchor="end" class="bl">N29: LAMOND RIGGS</text>
<text x="543.00" y="317.32" class="bv">1,020</text>
<rect x="498.7" y="323.10" width="39.84" height="7.6" fill="#f77965"/>
<text x="494.2" y="328.90" text-anchor="end" class="bl">N5: BLOOMINGDALE</text>
<text x="541.54" y="328.90" class="bv">984</text>
<rect x="498.7" y="334.68" width="38.26" height="7.6" fill="#f77c67"/>
<text x="494.2" y="340.48" text-anchor="end" class="bl">N28: KINGMAN PARK</text>
<text x="539.96" y="340.48" class="bv">945</text>
<rect x="498.7" y="346.26" width="37.53" height="7.6" fill="#f87e68"/>
<text x="494.2" y="352.06" text-anchor="end" class="bl">N18: EDGEWOOD</text>
<text x="539.23" y="352.06" class="bv">927</text>
<rect x="498.7" y="357.84" width="35.91" height="7.6" fill="#f8816b"/>
<text x="494.2" y="363.64" text-anchor="end" class="bl">N6: BRENTWOOD</text>
<text x="537.61" y="363.64" class="bv">887</text>
<rect x="498.7" y="369.42" width="33.48" height="7.6" fill="#f9866f"/>
<text x="494.2" y="375.22" text-anchor="end" class="bl">N41: SOUTH COLUMBIA..</text>
<text x="535.18" y="375.22" class="bv">827</text>
<rect x="498.7" y="381.00" width="32.35" height="7.6" fill="#f98871"/>
<text x="494.2" y="386.80" text-anchor="end" class="bl">N34: MOUNT PLEASANT</text>
<text x="534.05" y="386.80" class="bv">799</text>
<rect x="498.7" y="392.58" width="30.69" height="7.6" fill="#fa8b75"/>
<text x="494.2" y="398.38" text-anchor="end" class="bl">N23: GEORGETOWN E..</text>
<text x="532.39" y="398.38" class="bv">758</text>
<rect x="498.7" y="404.16" width="28.38" height="7.6" fill="#fa907a"/>
<text x="494.2" y="409.96" text-anchor="end" class="bl">N39: SAINT ELIZABETHS</text>
<text x="530.08" y="409.96" class="bv">701</text>
<rect x="498.7" y="415.74" width="28.26" height="7.6" fill="#fa907a"/>
<text x="494.2" y="421.54" text-anchor="end" class="bl">N25: HILL EAST</text>
<text x="529.96" y="421.54" class="bv">698</text>
<rect x="498.7" y="427.32" width="26.60" height="7.6" fill="#fa947e"/>
<text x="494.2" y="433.12" text-anchor="end" class="bl">N51: WOODRIDGE</text>
<text x="528.30" y="433.12" class="bv">657</text>
<rect x="498.7" y="438.90" width="25.79" height="7.6" fill="#fb9580"/>
<text x="494.2" y="444.70" text-anchor="end" class="bl">N44: TENLEYTOWN</text>
<text x="527.49" y="444.70" class="bv">637</text>
<rect x="498.7" y="450.48" width="25.67" height="7.6" fill="#fb9580"/>
<text x="494.2" y="456.28" text-anchor="end" class="bl">N27: KENT/PALISADES</text>
<text x="527.37" y="456.28" class="bv">634</text>
<rect x="498.7" y="462.06" width="25.30" height="7.6" fill="#fb9681"/>
<text x="494.2" y="467.86" text-anchor="end" class="bl">N10: CATHEDRAL HEIG..</text>
<text x="527.00" y="467.86" class="bv">625</text>
<rect x="498.7" y="473.64" width="25.10" height="7.6" fill="#fb9681"/>
<text x="494.2" y="479.44" text-anchor="end" class="bl">N9: CAPITOL HILL</text>
<text x="526.80" y="479.44" class="bv">620</text>
<rect x="498.7" y="485.22" width="23.28" height="7.6" fill="#fb9a85"/>
<text x="494.2" y="491.02" text-anchor="end" class="bl">N40: SHEPHERD PARK</text>
<text x="524.98" y="491.02" class="bv">575</text>
<rect x="498.7" y="496.80" width="22.31" height="7.6" fill="#fb9c88"/>
<text x="494.2" y="502.60" text-anchor="end" class="bl">N24: FOGGY BOTTOM/..</text>
<text x="524.01" y="502.60" class="bv">551</text>
<rect x="498.7" y="508.38" width="20.65" height="7.6" fill="#fc9f8c"/>
<text x="494.2" y="514.18" text-anchor="end" class="bl">N49: WASHINGTON HIG..</text>
<text x="522.35" y="514.18" class="bv">510</text>
<rect x="498.7" y="519.96" width="18.75" height="7.6" fill="#fca290"/>
<text x="494.2" y="525.76" text-anchor="end" class="bl">N50: WOODLEY PARK</text>
<text x="520.45" y="525.76" class="bv">463</text>
<rect x="498.7" y="531.54" width="18.46" height="7.6" fill="#fca391"/>
<text x="494.2" y="537.34" text-anchor="end" class="bl">N22: GEORGETOWN</text>
<text x="520.16" y="537.34" class="bv">456</text>
<rect x="498.7" y="543.12" width="14.78" height="7.6" fill="#fda999"/>
<text x="494.2" y="548.92" text-anchor="end" class="bl">N19: FOREST HILLS</text>
<text x="516.48" y="548.92" class="bv">365</text>
<rect x="498.7" y="554.70" width="10.77" height="7.6" fill="#feb0a1"/>
<text x="494.2" y="560.50" text-anchor="end" class="bl">N42: STADIUM ARMORY</text>
<text x="512.47" y="560.50" class="bv">266</text>
<rect x="498.7" y="566.28" width="10.69" height="7.6" fill="#feb0a2"/>
<text x="494.2" y="572.08" text-anchor="end" class="bl">N11: CHEVY CHASE</text>
<text x="512.39" y="572.08" class="bv">264</text>
<rect x="498.7" y="577.86" width="7.89" height="7.6" fill="#feb5a8"/>
<text x="494.2" y="583.66" text-anchor="end" class="bl">N3: BARNABY WOODS</text>
<text x="509.59" y="583.66" class="bv">195</text>
<rect x="498.7" y="589.44" width="7.21" height="7.6" fill="#feb7a9"/>
<text x="494.2" y="595.24" text-anchor="end" class="bl">N15: DC MEDICAL CEN..</text>
<text x="508.91" y="595.24" class="bv">178</text>
<rect x="498.7" y="601.02" width="4.86" height="7.6" fill="#ffbbaf"/>
<text x="494.2" y="606.82" text-anchor="end" class="bl">N36: NAVAL STATION &amp;..</text>
<text x="506.56" y="606.82" class="bv">120</text>
<rect x="498.7" y="612.60" width="3.56" height="7.6" fill="#ffbeb2"/>
<text x="494.2" y="618.40" text-anchor="end" class="bl">N35: NATIONAL MALL</text>
<text x="505.26" y="618.40" class="bv">88</text>
</svg>
<div id="copy"><span>© 2021 Mapbox © OpenStreetMap</span></div>
</div>
</body></html>
